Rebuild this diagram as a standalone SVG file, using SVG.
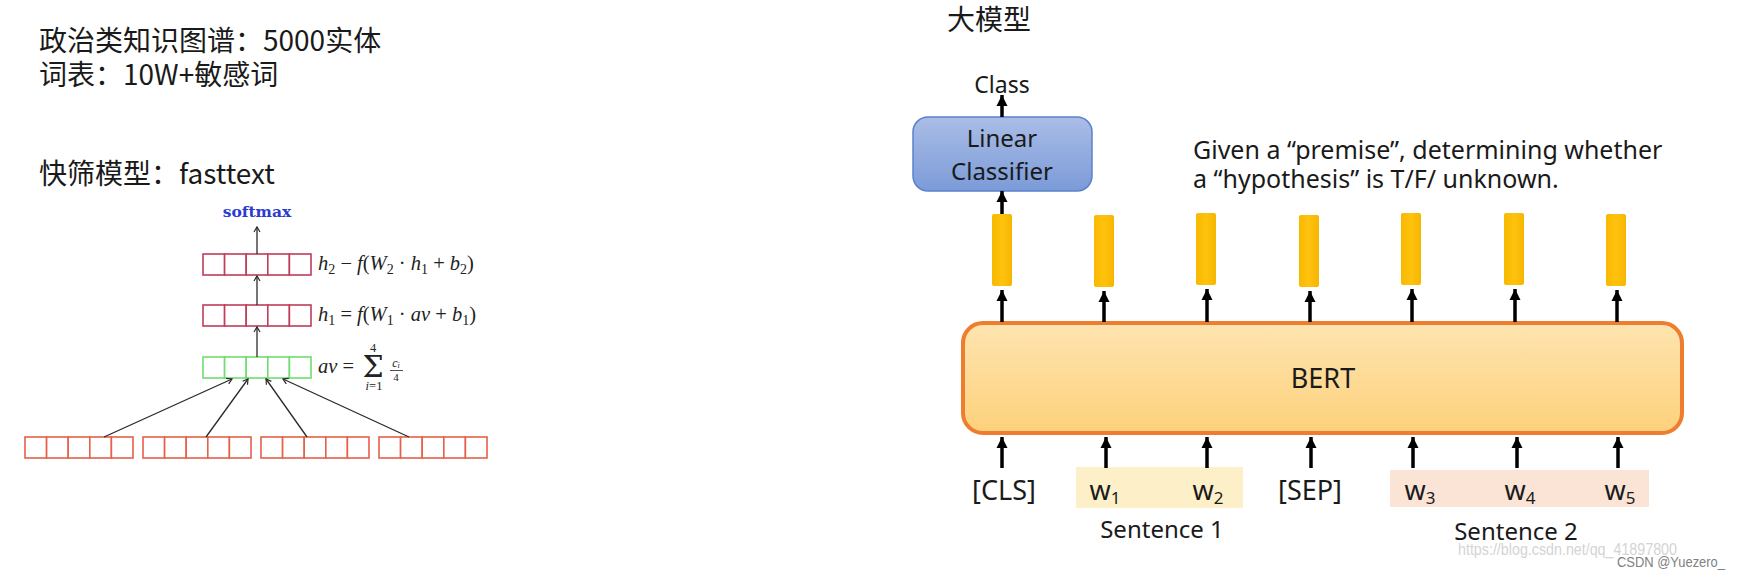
<svg xmlns="http://www.w3.org/2000/svg" width="1740" height="578" viewBox="0 0 1740 578">
<defs>
<style>
.cjk{font-family:"Noto Sans CJK SC","Noto Sans",sans-serif;font-size:28px;fill:#1a1a1a}
.sans{font-family:"Noto Sans","Open Sans",sans-serif;fill:#1a1a1a}
.math{font-family:"Liberation Serif","DejaVu Serif",serif;fill:#222}
.it{font-style:italic}
.red{fill:#fff;stroke:#bf3e5a;stroke-width:1.6}
.grn{fill:#fff;stroke:#6fdc6f;stroke-width:1.6}
.org{fill:#fff;stroke:#e6604a;stroke-width:1.6}
.thin{stroke:#2a2a2a;stroke-width:1.3;fill:none;marker-end:url(#thinHead)}
.thick{stroke:#000;stroke-width:3.5;fill:none;marker-end:url(#thickHead)}
.bar{fill:url(#barGrad)}
.wm{font-family:"Liberation Sans",Arial,sans-serif;fill:#d4d4d4}
</style>
<marker id="thinHead" viewBox="-6 -4 8 8" refX="0" refY="0" markerWidth="8" markerHeight="8" markerUnits="userSpaceOnUse" orient="auto">
<path d="M-5,-3 L0,0 L-5,3" fill="none" stroke="#2a2a2a" stroke-width="1.2"/>
</marker>
<marker id="thickHead" viewBox="-12 -6 13 12" refX="0" refY="0" markerWidth="13" markerHeight="12" markerUnits="userSpaceOnUse" orient="auto">
<path d="M-11,-5.5 L0,0 L-11,5.5 Z" fill="#000"/>
</marker>
<linearGradient id="blueGrad" x1="0" y1="0" x2="0" y2="1">
<stop offset="0" stop-color="#aabde6"/>
<stop offset="1" stop-color="#7b9bd8"/>
</linearGradient>
<linearGradient id="bertGrad" x1="0" y1="0" x2="0" y2="1">
<stop offset="0" stop-color="#fee4b0"/>
<stop offset="1" stop-color="#fdd17b"/>
</linearGradient>
<linearGradient id="barGrad" x1="0" y1="0" x2="1" y2="0">
<stop offset="0" stop-color="#f7b900"/>
<stop offset="0.5" stop-color="#ffc20e"/>
<stop offset="1" stop-color="#f5b600"/>
</linearGradient>
</defs>
<rect width="1740" height="578" fill="#fff"/>

<!-- left texts -->
<g id="title-left">
<text class="cjk" x="39" y="51">政治类知识图谱：5000实体</text>
<text class="cjk" x="39" y="85">词表：10W+敏感词</text>
<text class="cjk" x="39" y="184">快筛模型：fasttext</text>
</g>

<!-- fasttext diagram -->
<g id="softmax">
<text x="257" y="217" text-anchor="middle" font-family="'DejaVu Serif',serif" font-weight="bold" font-size="15.5" fill="#2b3bd0">softmax</text>
</g>
<g id="h2">
<rect class="red" x="203" y="254" width="21.6" height="21"/>
<rect class="red" x="224.6" y="254" width="21.6" height="21"/>
<rect class="red" x="246.2" y="254" width="21.6" height="21"/>
<rect class="red" x="267.8" y="254" width="21.6" height="21"/>
<rect class="red" x="289.4" y="254" width="21.6" height="21"/>
<text class="math" x="318" y="270" font-size="20.5"><tspan class="it">h</tspan><tspan font-size="14" dy="4">2</tspan><tspan dy="-4"> − </tspan><tspan class="it">f</tspan>(<tspan class="it">W</tspan><tspan font-size="14" dy="4">2</tspan><tspan dy="-4"> · </tspan><tspan class="it">h</tspan><tspan font-size="14" dy="4">1</tspan><tspan dy="-4"> + </tspan><tspan class="it">b</tspan><tspan font-size="14" dy="4">2</tspan><tspan dy="-4">)</tspan></text>
</g>
<g id="h1">
<rect class="red" x="203" y="305" width="21.6" height="21"/>
<rect class="red" x="224.6" y="305" width="21.6" height="21"/>
<rect class="red" x="246.2" y="305" width="21.6" height="21"/>
<rect class="red" x="267.8" y="305" width="21.6" height="21"/>
<rect class="red" x="289.4" y="305" width="21.6" height="21"/>
<text class="math" x="318" y="321" font-size="20.5"><tspan class="it">h</tspan><tspan font-size="14" dy="4">1</tspan><tspan dy="-4"> = </tspan><tspan class="it">f</tspan>(<tspan class="it">W</tspan><tspan font-size="14" dy="4">1</tspan><tspan dy="-4"> · </tspan><tspan class="it">av</tspan> + <tspan class="it">b</tspan><tspan font-size="14" dy="4">1</tspan><tspan dy="-4">)</tspan></text>
</g>
<g id="av">
<rect class="grn" x="203" y="357" width="21.6" height="21"/>
<rect class="grn" x="224.6" y="357" width="21.6" height="21"/>
<rect class="grn" x="246.2" y="357" width="21.6" height="21"/>
<rect class="grn" x="267.8" y="357" width="21.6" height="21"/>
<rect class="grn" x="289.4" y="357" width="21.6" height="21"/>
<text class="math" x="318" y="373" font-size="20.5"><tspan class="it">av</tspan> =</text>
<text x="373" y="377" text-anchor="middle" font-family="'DejaVu Serif',serif" font-size="30" fill="#222">Σ</text>
<text class="math" x="373" y="352" text-anchor="middle" font-size="12.5">4</text>
<text class="math" x="374" y="390" text-anchor="middle" font-size="12.5"><tspan class="it">i</tspan>=1</text>
<text class="math" x="396" y="367" text-anchor="middle" font-size="12"><tspan class="it">c</tspan><tspan font-size="8" class="it" dy="1">i</tspan></text>
<line x1="390" y1="370.5" x2="403" y2="370.5" stroke="#222" stroke-width="0.8"/>
<text class="math" x="396" y="381" text-anchor="middle" font-size="11">4</text>
</g>
<g id="input1">
<rect class="org" x="25" y="437" width="21.6" height="21"/>
<rect class="org" x="46.6" y="437" width="21.6" height="21"/>
<rect class="org" x="68.2" y="437" width="21.6" height="21"/>
<rect class="org" x="89.8" y="437" width="21.6" height="21"/>
<rect class="org" x="111.4" y="437" width="21.6" height="21"/>
</g>
<g id="input2">
<rect class="org" x="143" y="437" width="21.6" height="21"/>
<rect class="org" x="164.6" y="437" width="21.6" height="21"/>
<rect class="org" x="186.2" y="437" width="21.6" height="21"/>
<rect class="org" x="207.8" y="437" width="21.6" height="21"/>
<rect class="org" x="229.4" y="437" width="21.6" height="21"/>
</g>
<g id="input3">
<rect class="org" x="261" y="437" width="21.6" height="21"/>
<rect class="org" x="282.6" y="437" width="21.6" height="21"/>
<rect class="org" x="304.2" y="437" width="21.6" height="21"/>
<rect class="org" x="325.8" y="437" width="21.6" height="21"/>
<rect class="org" x="347.4" y="437" width="21.6" height="21"/>
</g>
<g id="input4">
<rect class="org" x="379" y="437" width="21.6" height="21"/>
<rect class="org" x="400.6" y="437" width="21.6" height="21"/>
<rect class="org" x="422.2" y="437" width="21.6" height="21"/>
<rect class="org" x="443.8" y="437" width="21.6" height="21"/>
<rect class="org" x="465.4" y="437" width="21.6" height="21"/>
</g>

<!-- right side -->
<g id="title-right">
<text class="cjk" x="947" y="30">大模型</text>
</g>
<g id="class-label">
<text class="sans" x="1002" y="93" text-anchor="middle" font-size="23">Class</text>
</g>
<g id="linear-classifier">
<rect x="913" y="117" width="179" height="74" rx="15" fill="url(#blueGrad)" stroke="#5a82cb" stroke-width="1.5"/>
<text class="sans" x="1002" y="147" text-anchor="middle" font-size="24">Linear</text>
<text class="sans" x="1002" y="180" text-anchor="middle" font-size="24">Classifier</text>
</g>
<g id="description">
<text class="sans" x="1193" y="159" font-size="25">Given a “premise”, determining whether</text>
<text class="sans" x="1193" y="188" font-size="25">a “hypothesis” is T/F/ unknown.</text>
</g>
<g id="outputs">
<rect class="bar" x="992" y="214" width="20" height="72" rx="2"/>
<rect class="bar" x="1094" y="215" width="20" height="72" rx="2"/>
<rect class="bar" x="1196" y="213" width="20" height="72" rx="2"/>
<rect class="bar" x="1299" y="215" width="20" height="72" rx="2"/>
<rect class="bar" x="1401" y="213" width="20" height="72" rx="2"/>
<rect class="bar" x="1504" y="213" width="20" height="72" rx="2"/>
<rect class="bar" x="1606" y="214" width="20" height="72" rx="2"/>
</g>
<g id="bert">
<rect x="963" y="323" width="719" height="110" rx="20" fill="url(#bertGrad)" stroke="#ee7d2f" stroke-width="4"/>
<text class="sans" x="1323" y="388" text-anchor="middle" font-size="27">BERT</text>
</g>
<g id="sentence1">
<rect x="1076" y="467" width="167" height="41" fill="#fdf0c8"/>
<text class="sans" x="1162" y="538" text-anchor="middle" font-size="24">Sentence 1</text>
</g>
<g id="sentence2">
<rect x="1390" y="470" width="259" height="37" fill="#fbe4d6"/>
<text class="sans" x="1516" y="540" text-anchor="middle" font-size="24">Sentence 2</text>
</g>
<g id="tokens">
<text class="sans" x="1004" y="500" text-anchor="middle" font-size="27">[CLS]</text>
<text class="sans" x="1105" y="500" text-anchor="middle" font-size="27">w<tspan font-size="17" dy="4">1</tspan></text>
<text class="sans" x="1208" y="500" text-anchor="middle" font-size="27">w<tspan font-size="17" dy="4">2</tspan></text>
<text class="sans" x="1310" y="500" text-anchor="middle" font-size="27">[SEP]</text>
<text class="sans" x="1420" y="500" text-anchor="middle" font-size="27">w<tspan font-size="17" dy="4">3</tspan></text>
<text class="sans" x="1520" y="500" text-anchor="middle" font-size="27">w<tspan font-size="17" dy="4">4</tspan></text>
<text class="sans" x="1620" y="500" text-anchor="middle" font-size="27">w<tspan font-size="17" dy="4">5</tspan></text>
</g>
<g id="watermark">
<text class="wm" x="1458" y="555" font-size="17" textLength="219" lengthAdjust="spacingAndGlyphs">https://blog.csdn.net/qq_41897800</text>
<text x="1617" y="567" font-family="'Liberation Sans',Arial,sans-serif" font-size="14" fill="#808080" textLength="108" lengthAdjust="spacingAndGlyphs">CSDN @Yuezero_</text>
</g>

<g id="connectors">
<line class="thin" x1="257" y1="254" x2="257" y2="227"/>
<line class="thin" x1="257" y1="305" x2="257" y2="276"/>
<line class="thin" x1="257" y1="357" x2="257" y2="327"/>
<line class="thin" x1="104" y1="437" x2="232" y2="379"/>
<line class="thin" x1="206" y1="437" x2="248" y2="379"/>
<line class="thin" x1="307" y1="437" x2="266" y2="379"/>
<line class="thin" x1="409" y1="437" x2="283" y2="379"/>

<line class="thick" x1="1002" y1="117" x2="1002" y2="95"/>
<line class="thick" x1="1002" y1="214" x2="1002" y2="191"/>

<line class="thick" x1="1002" y1="322" x2="1002" y2="290"/>
<line class="thick" x1="1104" y1="322" x2="1104" y2="291"/>
<line class="thick" x1="1207" y1="322" x2="1207" y2="289"/>
<line class="thick" x1="1310" y1="322" x2="1310" y2="291"/>
<line class="thick" x1="1412" y1="322" x2="1412" y2="289"/>
<line class="thick" x1="1515" y1="322" x2="1515" y2="289"/>
<line class="thick" x1="1617" y1="322" x2="1617" y2="290"/>

<line class="thick" x1="1002" y1="468" x2="1002" y2="437"/>
<line class="thick" x1="1106" y1="468" x2="1106" y2="437"/>
<line class="thick" x1="1207" y1="468" x2="1207" y2="437"/>
<line class="thick" x1="1311" y1="468" x2="1311" y2="437"/>
<line class="thick" x1="1413" y1="468" x2="1413" y2="437"/>
<line class="thick" x1="1517" y1="468" x2="1517" y2="437"/>
<line class="thick" x1="1618" y1="468" x2="1618" y2="437"/>
</g>
</svg>
